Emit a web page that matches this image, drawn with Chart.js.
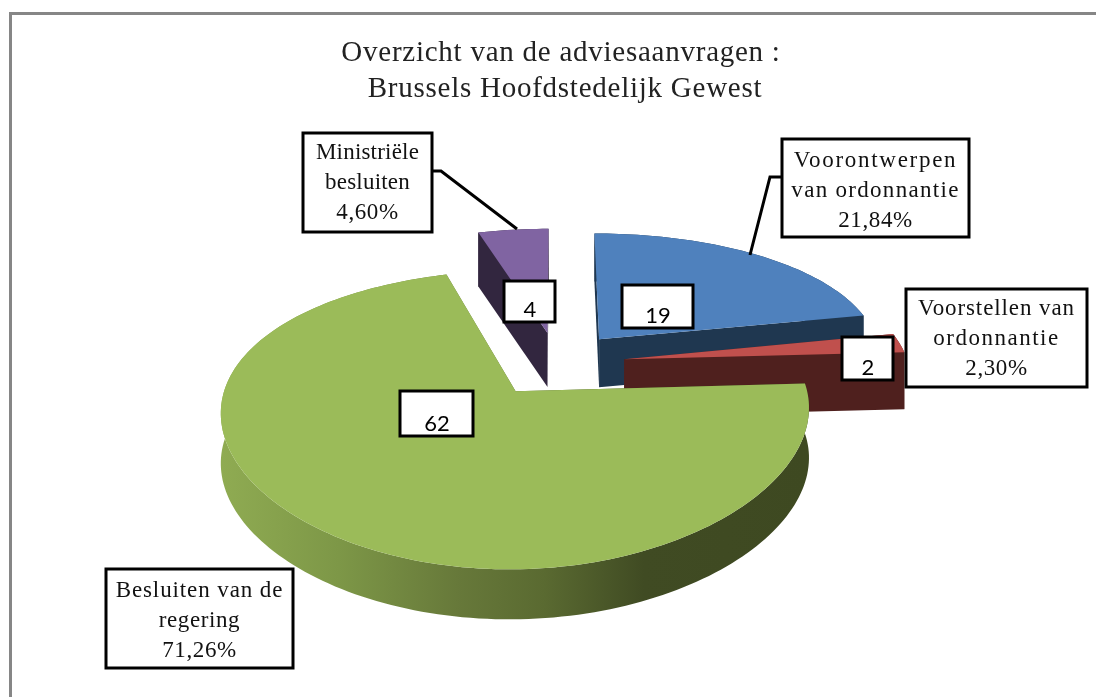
<!DOCTYPE html>
<html>
<head>
<meta charset="utf-8">
<style>html,body{margin:0;padding:0;background:#fff}#w{position:relative;width:1096px;height:697px}</style>
<script src="https://cdn.jsdelivr.net/npm/chart.js@4"></script>
</head>
<body>
<div id="w"><canvas id="c" width="1096" height="697"></canvas></div>
<script>
const titleLines = [' Overzicht van de adviesaanvragen :', '  Brussels Hoofdstedelijk Gewest'];
const categories = ['Voorontwerpen van ordonnantie', 'Voorstellen van ordonnantie', 'Besluiten van de regering', 'Ministriële besluiten'];
const values = [19, 2, 62, 4];
const percentLabels = ['21,84%', '2,30%', '71,26%', '4,60%'];
const categoryLines = [['Voorontwerpen', 'van ordonnantie'], ['Voorstellen van', 'ordonnantie'], ['Besluiten van de', 'regering'], ['Ministriële', 'besluiten']];
const topColors = ['#4F81BD', '#C0504D', '#9BBB59', '#8064A2'];

// Styling and layout
const sideStops = [
  [[0, '#1F3750'], [1, '#1F3750']],
  [[0, '#4F201E'], [1, '#4F201E']],
  [[0, '#8FAB52'], [0.2, '#7D9747'], [0.4, '#67793A'], [0.55, '#5A6A31'], [0.72, '#404B23'], [1, '#3E4921']],
  [[0, '#32263F'], [1, '#32263F']]
];
const sliceOffsets = [68, 68, 70, 68];
const pieRadius = 284;
const tiltY = 0.47, perspY = 0.00065, perspX = 0.00045;
const wallHeights = [48, 57, 50, 54];
const labelBoxes = [[782, 139, 187, 98], [906, 289, 181, 98], [106, 569, 187, 99], [303, 133, 129, 99]];
const labelBaselines = [28, 26, 28, 26];
const labelSpacing = [[1.7, 1.3, 0.6], [0.9, 1.5, 0.6], [0.9, 0.6, 0.6], [0.2, 0.2, 0.6]];
const valueBoxes = [[622, 285, 71, 43], [842, 337, 51, 43], [400, 391, 73, 45], [504, 281, 51, 41]];
const leaders = [[[782, 177], [770, 177], [750, 255]], null, null, [[432, 171], [441, 171], [517, 229]]];

function project(arc, u, v, drop) {
  const X = arc.x + u / (1 - perspX * v);
  const Y = arc.y + tiltY * v / (1 - perspY * v) + (drop || 0);
  return [X, Y];
}
function slicePoints(arc) {
  const off = arc.options.offset, mid = (arc.startAngle + arc.endAngle) / 2;
  const u0 = Math.cos(mid) * off, v0 = Math.sin(mid) * off, R = arc.outerRadius;
  const rim = [], n = Math.max(6, Math.ceil((arc.endAngle - arc.startAngle) * 40));
  for (let i = 0; i <= n; i++) {
    const a = arc.startAngle + (arc.endAngle - arc.startAngle) * i / n;
    rim.push([u0 + Math.cos(a) * R, v0 + Math.sin(a) * R]);
  }
  return { u0, v0, rim };
}
function fillPoly(ctx, pts, fill) {
  ctx.beginPath();
  pts.forEach((p, i) => i ? ctx.lineTo(p[0], p[1]) : ctx.moveTo(p[0], p[1]));
  ctx.closePath();
  ctx.fillStyle = fill;
  ctx.fill();
}
const pie3d = {
  id: 'pie3d',
  beforeDraw(chart) {
    const ctx = chart.ctx;
    ctx.save();
    ctx.strokeStyle = '#868686';
    ctx.lineWidth = 3;
    ctx.strokeRect(10.5, 13.5, 2000, 2000);
    ctx.restore();
    ctx.letterSpacing = '0.75px';
  },
  beforeDatasetDraw(chart) {
    const ctx = chart.ctx;
    const arcs = chart.getDatasetMeta(0).data.map((arc, i) => ({ arc, i, s: slicePoints(arc) }));
    arcs.sort((a, b) => a.s.v0 - b.s.v0);
    ctx.save();
    for (const { arc, i, s } of arcs) {
      const h = wallHeights[i];
      const grad = ctx.createLinearGradient(222, 0, 808, 0);
      sideStops[i].forEach(st => grad.addColorStop(st[0], st[1]));
      const apex = [s.u0, s.v0], first = s.rim[0], last = s.rim[s.rim.length - 1];
      const face = (a, b) => fillPoly(ctx, [project(arc, a[0], a[1]), project(arc, b[0], b[1]), project(arc, b[0], b[1], h), project(arc, a[0], a[1], h)], grad);
      face(apex, first);
      face(apex, last);
      const wall = s.rim.map(p => project(arc, p[0], p[1])).concat(s.rim.slice().reverse().map(p => project(arc, p[0], p[1], h)));
      fillPoly(ctx, wall, grad);
      fillPoly(ctx, [project(arc, apex[0], apex[1])].concat(s.rim.map(p => project(arc, p[0], p[1]))), arc.options.backgroundColor);
    }
    ctx.restore();
    return false;
  },
  afterDatasetsDraw(chart) {
    const ctx = chart.ctx;
    ctx.save();
    ctx.strokeStyle = '#000';
    ctx.lineWidth = 3;
    ctx.lineJoin = 'miter';
    ctx.textAlign = 'center';
    ctx.textBaseline = 'alphabetic';
    leaders.forEach(l => {
      if (!l) return;
      ctx.beginPath();
      l.forEach((p, i) => i ? ctx.lineTo(p[0], p[1]) : ctx.moveTo(p[0], p[1]));
      ctx.stroke();
    });
    categories.forEach((c, i) => {
      const b = labelBoxes[i];
      ctx.fillStyle = '#fff';
      ctx.fillRect(b[0], b[1], b[2], b[3]);
      ctx.strokeRect(b[0], b[1], b[2], b[3]);
      ctx.fillStyle = '#111';
      ctx.font = '23px "Liberation Serif"';
      const lines = categoryLines[i].concat(percentLabels[i]);
      lines.forEach((t, k) => {
        ctx.letterSpacing = labelSpacing[i][k] + 'px';
        ctx.fillText(t, b[0] + b[2] / 2, b[1] + labelBaselines[i] + k * 30);
      });
      const v = valueBoxes[i];
      ctx.fillStyle = '#fff';
      ctx.fillRect(v[0], v[1], v[2], v[3]);
      ctx.strokeRect(v[0], v[1], v[2], v[3]);
      ctx.fillStyle = '#000';
      ctx.font = '22px Lato';
      ctx.letterSpacing = '0px';
      ctx.fillText(String(values[i]), v[0] + v[2] / 2 + 0.5, v[1] + v[3] - 5);
    });
    ctx.restore();
  }
};

new Chart(document.getElementById('c'), {
  type: 'pie',
  data: {
    labels: categories,
    datasets: [{ data: values, backgroundColor: topColors, borderWidth: 0, offset: sliceOffsets, radius: pieRadius }]
  },
  plugins: [pie3d],
  options: {
    responsive: false,
    animation: false,
    rotation: 0,
    layout: { padding: { left: 18, bottom: 78 } },
    plugins: {
      legend: { display: false },
      tooltip: { enabled: false },
      title: {
        display: true,
        text: titleLines,
        color: '#222',
        font: { family: '"Liberation Serif"', size: 29, weight: 'normal', lineHeight: 1.25 },
        padding: { top: 35, bottom: 0 }
      }
    }
  }
});
</script>
</body>
</html>
